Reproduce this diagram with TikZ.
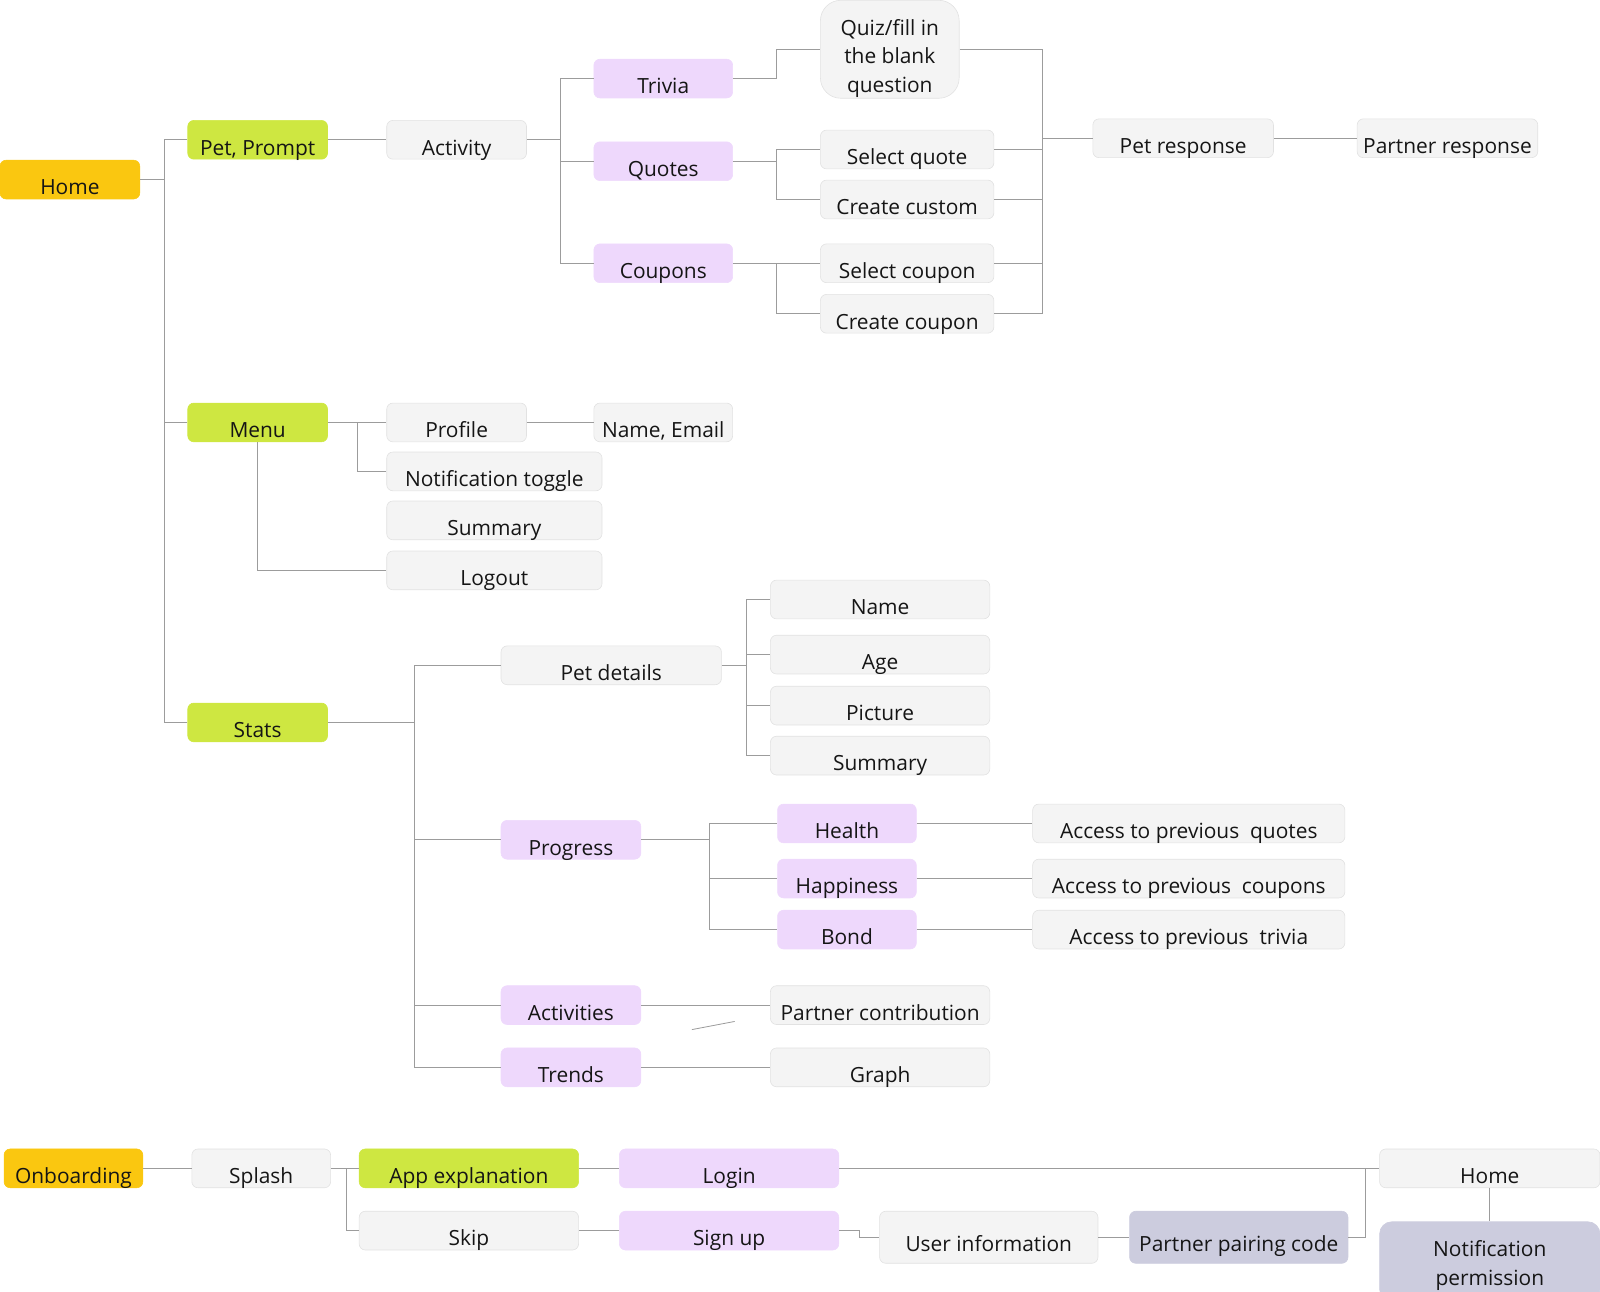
\documentclass[tikz,border=0pt]{standalone}
\usepackage{fontspec}
\setmainfont{Open Sans}
\usetikzlibrary{calc}
\definecolor{rootyellow}{HTML}{FAC710}
\definecolor{lime}{HTML}{CEE741}
\definecolor{lilac}{HTML}{EED8FC}
\definecolor{slate}{HTML}{CCCCDE}
\definecolor{paper}{HTML}{F4F4F4}
\definecolor{edge}{HTML}{E2E2E2}
\definecolor{wire}{HTML}{9C9C9C}
\definecolor{ink}{HTML}{151515}

\begin{document}
\begin{tikzpicture}[x=1pt,y=-1pt,
  tile/.style={rounded corners=6pt,inner sep=0pt,text=ink,line width=.6pt,
    font=\fontsize{20.5pt}{28pt}\selectfont,text height=34pt,text depth=4pt},
  plain/.style={tile,fill=paper,draw=edge},
  root/.style={tile,fill=rootyellow,draw=rootyellow},
  screen/.style={tile,fill=lime,draw=lime},
  feature/.style={tile,fill=lilac,draw=lilac},
  system/.style={tile,fill=slate,draw=slate},
  link/.style={draw=wire,line width=1.2pt}]
\useasboundingbox (0,0) rectangle (1568,1266);

% home tree
\node[root,minimum width=137pt] (home) at (68.5,176) {Home};
\node[screen,minimum width=137pt] (petprompt) at (252.5,137) {Pet, Prompt};
\node[plain,minimum width=137pt] (activity) at (447.5,137) {Activity};
\node[feature,minimum width=136pt] (trivia) at (650,77) {Trivia};
\node[plain,text height=,text depth=,align=center,rounded corners=20pt,
      minimum width=136pt,anchor=north] (quiz) at (872,0)
      {\rule{0pt}{34pt}Quiz/fill in\\the blank\\question\rule[-6pt]{0pt}{6pt}};
\node[feature,minimum width=136pt] (quotes) at (650,158) {Quotes};
\node[plain,minimum width=170pt] (selquote) at (889,146.5) {Select quote};
\node[plain,minimum width=170pt] (custom) at (889,195.5) {Create custom};
\node[feature,minimum width=136pt] (coupons) at (650,258) {Coupons};
\node[plain,minimum width=170pt] (selcoupon) at (889,258) {Select coupon};
\node[plain,minimum width=170pt] (newcoupon) at (889,307.5) {Create coupon};
\node[plain,minimum width=177pt] (petresp) at (1159.5,135.5) {Pet response};
\node[plain,minimum width=177pt] (partnerresp) at (1418.5,135.5) {Partner response};

\node[screen,minimum width=137pt] (menu) at (252.5,414) {Menu};
\node[plain,minimum width=137pt] (profile) at (447.5,414) {Profile};
\node[plain,minimum width=136pt] (nameemail) at (650,414) {Name, Email};
\node[plain,minimum width=211pt] (notiftoggle) at (484.5,462) {Notification toggle};
\node[plain,minimum width=211pt] (menusummary) at (484.5,510) {Summary};
\node[plain,minimum width=211pt] (logout) at (484.5,559) {Logout};

\node[screen,minimum width=137pt] (stats) at (252.5,708) {Stats};
\node[plain,minimum width=216pt] (petdetails) at (599,652) {Pet details};
\node[plain,minimum width=215pt] (pdname) at (862.5,587.5) {Name};
\node[plain,minimum width=215pt] (pdage) at (862.5,641.5) {Age};
\node[plain,minimum width=215pt] (pdpicture) at (862.5,691.5) {Picture};
\node[plain,minimum width=215pt] (pdsummary) at (862.5,740.5) {Summary};
\node[feature,minimum width=137pt] (progress) at (559.5,823) {Progress};
\node[feature,minimum width=136pt] (health) at (830,807) {Health};
\node[feature,minimum width=136pt] (happiness) at (830,861) {Happiness};
\node[feature,minimum width=136pt] (bond) at (830,911) {Bond};
\node[plain,minimum width=306pt] (accquotes) at (1165,807) {Access to previous~ quotes};
\node[plain,minimum width=306pt] (acccoupons) at (1165,861) {Access to previous~ coupons};
\node[plain,minimum width=306pt] (acctrivia) at (1165,911) {Access to previous~ trivia};
\node[feature,minimum width=137pt] (activities) at (559.5,985) {Activities};
\node[plain,minimum width=215pt] (contrib) at (862.5,985) {Partner contribution};
\node[feature,minimum width=137pt] (trends) at (559.5,1046) {Trends};
\node[plain,minimum width=215pt] (graph) at (862.5,1046) {Graph};

\draw[link] (home.east) -- ++(24,0) coordinate (homehub);
\draw[link] (homehub) |- (petprompt.west) (homehub) |- (menu.west) (homehub) |- (stats.west);
\draw[link] (petprompt) -- (activity);
\draw[link] (activity.east) -- ++(33,0) coordinate (acthub);
\draw[link] (acthub) |- (trivia.west) (acthub) |- (quotes.west) (acthub) |- (coupons.west);
\draw[link] (trivia.east) -- ++(43,0) |- (quiz.west);
\draw[link] (quotes.east) -- ++(43,0) coordinate (quotehub);
\draw[link] (quotehub) |- (selquote.west) (quotehub) |- (custom.west);
\draw[link] (coupons.east) -- ++(43,0) coordinate (couponhub);
\draw[link] (couponhub) |- (selcoupon.west) (couponhub) |- (newcoupon.west);
\coordinate (resphub) at (1022,135.5);
\draw[link] (quiz.east) -| (resphub) (selquote.east) -| (resphub) (custom.east) -| (resphub)
  (selcoupon.east) -| (resphub) (newcoupon.east) -| (resphub);
\draw[link] (resphub) -- (petresp.west);
\draw[link] (petresp) -- (partnerresp);

\draw[link] (menu) -- (profile);
\draw[link] (profile) -- (nameemail);
\draw[link] (menu.east) -- ++(29,0) |- (notiftoggle.west);
\draw[link] (menu.south) |- (logout.west);

\draw[link] (stats.east) -- ++(85,0) coordinate (statshub);
\draw[link] (statshub) |- (petdetails.west) (statshub) |- (progress.west)
  (statshub) |- (activities.west) (statshub) |- (trends.west);
\draw[link] (petdetails.east) -- ++(24,0) coordinate (pdhub);
\draw[link] (pdhub) |- (pdname.west) (pdhub) |- (pdage.west) (pdhub) |- (pdpicture.west) (pdhub) |- (pdsummary.west);
\draw[link] (progress.east) -- ++(67,0) coordinate (proghub);
\draw[link] (proghub) |- (health.west) (proghub) |- (happiness.west) (proghub) |- (bond.west);
\draw[link] (health) -- (accquotes);
\draw[link] (happiness) -- (acccoupons);
\draw[link] (bond) -- (acctrivia);
\draw[link] (activities) -- (contrib);
\draw[link] (trends) -- (graph);
\draw[draw=wire,line width=.8pt] (678,1009) -- (720,1001); % stray stroke

% onboarding flow
\node[root,minimum width=136pt] (onboarding) at (72,1145) {Onboarding};
\node[plain,minimum width=136pt] (splash) at (256,1145) {Splash};
\node[screen,minimum width=215pt] (appexpl) at (459.5,1145) {App explanation};
\node[feature,minimum width=215pt] (login) at (714.5,1145) {Login};
\node[plain,minimum width=215pt] (skip) at (459.5,1206) {Skip};
\node[feature,minimum width=215pt] (signup) at (714.5,1206) {Sign up};
\node[plain,minimum width=214pt,text height=39pt,text depth=12pt] (userinfo) at (969,1212.5) {User information};
\node[system,minimum width=214pt,text height=39pt,text depth=12pt] (pairing) at (1214,1212.5) {Partner pairing code};
\node[plain,minimum width=216pt] (obhome) at (1460,1145) {Home};
\node[system,text height=,text depth=,align=center,rounded corners=12pt,
      minimum width=216pt,anchor=north] (notifperm) at (1460,1197)
      {\rule{0pt}{34pt}Notification\\permission\rule[-16pt]{0pt}{16pt}};

\draw[link] (onboarding) -- (splash);
\draw[link] (splash.east) -- ++(15,0) coordinate (splashhub);
\draw[link] (splashhub) |- (appexpl.west) (splashhub) |- (skip.west);
\draw[link] (appexpl) -- (login);
\draw[link] (login) -- (obhome);
\draw[link] (skip) -- (signup);
\draw[link] (signup.east) -- ++(20,0) |- (userinfo.west);
\draw[link] (userinfo) -- (pairing);
\draw[link] (pairing.east) -- ++(17,0) |- (obhome.west);
\draw[link] (obhome) -- (notifperm);
\end{tikzpicture}
\end{document}
